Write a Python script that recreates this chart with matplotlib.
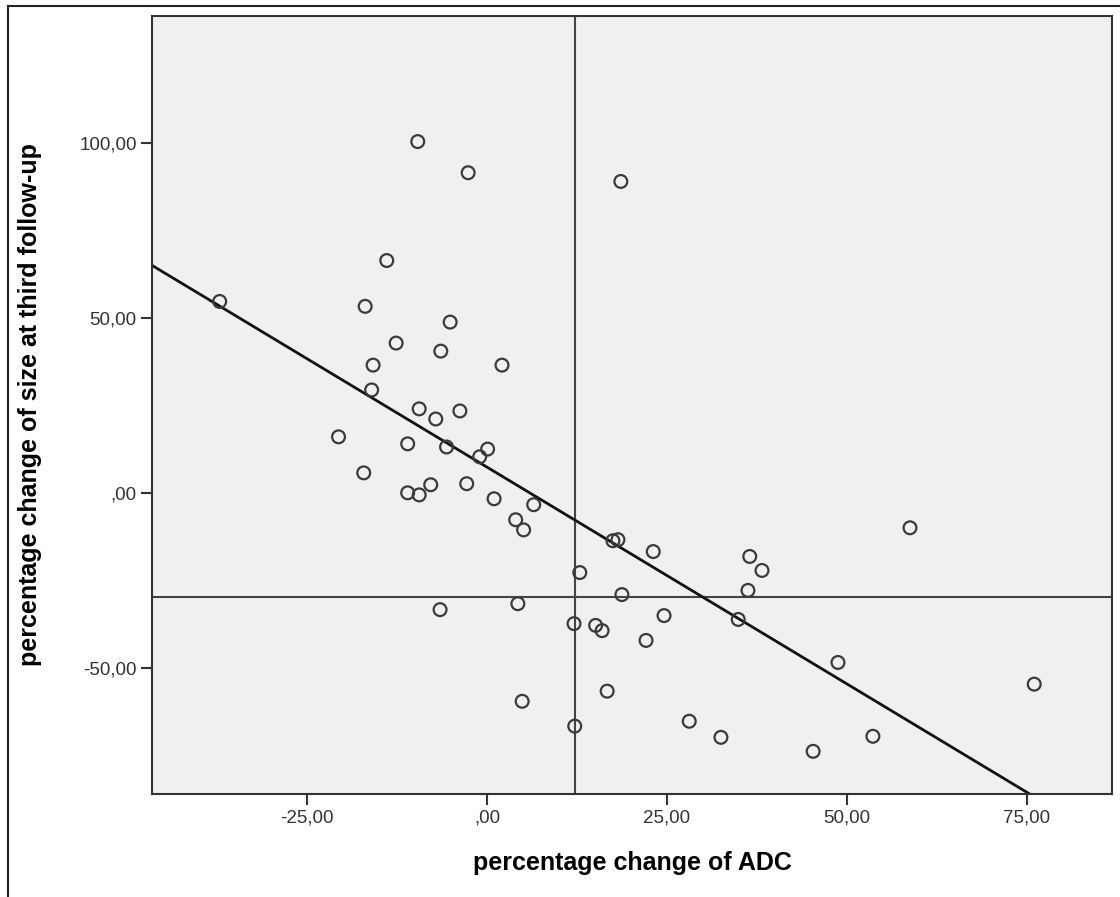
import matplotlib.pyplot as plt
import numpy as np
from matplotlib.lines import Line2D

plt.rcParams['font.family'] = ['Liberation Sans', 'DejaVu Sans']

# percentage change of ADC vs percentage change of size
adc_change = [-37.1, -9.6, -2.6, 18.6, -13.9, -16.9, -5.1, -12.6, -6.4, -15.8,
              2.1, -16.0, -9.4, -3.75, -7.1, -20.6, -11.0, -5.6, 0.1, -1.0,
              -17.1, -7.8, -2.8, -11.0, -9.4, 1.0, 6.5, 4.0, 5.1, 58.75,
              17.5, 18.2, 23.1, 36.5, 38.2, 12.9, 36.25, 18.75, -6.5, 4.3,
              24.6, 34.9, 12.1, 15.1, 16.0, 22.1, 48.75, 76.0, 16.7, 4.9,
              28.1, 12.2, 32.5, 53.6, 45.3]
size_change = [54.7, 100.4, 91.5, 89.0, 66.4, 53.3, 48.8, 42.8, 40.5, 36.5,
               36.5, 29.4, 24.0, 23.4, 21.1, 16.0, 14.0, 13.1, 12.5, 10.3,
               5.7, 2.3, 2.6, 0.0, -0.6, -1.7, -3.4, -7.7, -10.6, -10.0,
               -13.7, -13.4, -16.8, -18.2, -22.2, -22.8, -27.9, -29.1, -33.4, -31.7,
               -35.1, -36.2, -37.4, -37.9, -39.4, -42.2, -48.5, -54.7, -56.7, -59.6,
               -65.3, -66.7, -69.9, -69.6, -73.9]

# reference lines and fit line
ref_x = 12.2
ref_y = -29.9
fit_intercept = 7.36
fit_slope = -1.24

x_ticks = [-25, 0, 25, 50, 75]
x_tick_labels = ["-25,00", ",00", "25,00", "50,00", "75,00"]
y_ticks = [-50, 0, 50, 100]
y_tick_labels = ["-50,00", ",00", "50,00", "100,00"]

fig = plt.figure(figsize=(11.2, 8.97), dpi=100)
ax = fig.add_axes([152 / 1120, 1 - 794 / 897, 960 / 1120, 778 / 897])
ax.set_facecolor('#f0f0f0')

ax.set_xlim(-46.5, 86.8)
ax.set_ylim(-86.1, 136.3)

ax.axvline(ref_x, color='#444444', lw=1.5, zorder=1)
ax.axhline(ref_y, color='#444444', lw=1.5, zorder=1)

xs = np.array(ax.get_xlim())
ax.plot(xs, fit_intercept + fit_slope * xs, color='#111111', lw=2, zorder=2)

ax.scatter(adc_change, size_change, s=85, facecolors='none',
           edgecolors='#3a3a3a', linewidths=1.6, zorder=3)

ax.set_xticks(x_ticks)
ax.set_xticklabels(x_tick_labels)
ax.set_yticks(y_ticks)
ax.set_yticklabels(y_tick_labels)
ax.tick_params(direction='out', length=8, width=1.5, color='#333333',
               labelsize=13.5, labelcolor='#333333', pad=3)

for sp in ax.spines.values():
    sp.set_color('#333333')
    sp.set_linewidth(1.5)

ax.set_xlabel("percentage change of ADC", fontsize=18, fontweight='bold',
              labelpad=18)
ax.set_ylabel("percentage change of size at third follow-up", fontsize=18,
              fontweight='bold', labelpad=27)

# outer frame of the original export
fig.add_artist(Line2D([8 / 1120, 8 / 1120], [0, 1 - 6 / 897], color='#222222',
                      lw=1.5, transform=fig.transFigure))
fig.add_artist(Line2D([8 / 1120, 1], [1 - 6 / 897, 1 - 6 / 897], color='#222222',
                      lw=1.5, transform=fig.transFigure))

fig.savefig("out.png", dpi=100)
